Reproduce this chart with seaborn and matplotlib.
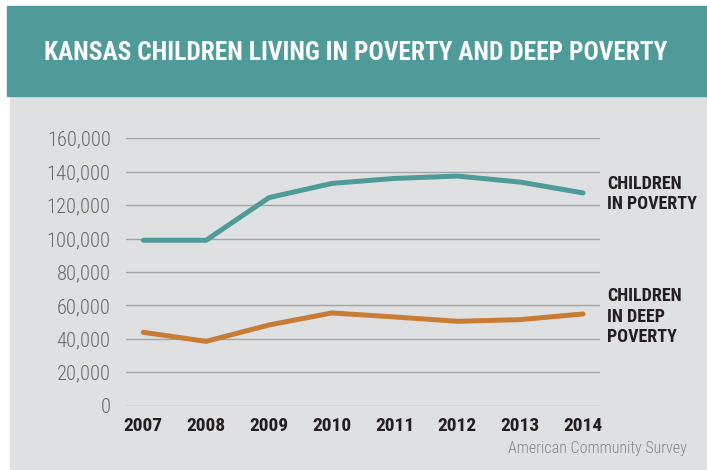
"""Kansas children living in poverty and deep poverty, 2007-2014."""

import matplotlib
matplotlib.use("Agg")

import matplotlib.pyplot as plt
import pandas as pd
import seaborn as sns
from matplotlib.patches import Rectangle
from matplotlib.ticker import FuncFormatter

years = [2007, 2008, 2009, 2010, 2011, 2012, 2013, 2014]
in_poverty = [99000, 99000, 124500, 133000, 136000, 137400, 133800, 127300]
in_deep_poverty = [43900, 38500, 48300, 55500, 53100, 50500, 51500, 54900]
y_ticks = [0, 20000, 40000, 60000, 80000, 100000, 120000, 140000, 160000]

title = "KANSAS CHILDREN LIVING IN POVERTY AND DEEP POVERTY"
label_poverty = "CHILDREN\nIN POVERTY"
label_deep = "CHILDREN\nIN DEEP\nPOVERTY"
source = "American Community Survey"

TEAL = "#4e9b9a"
ORANGE = "#c97c36"
PANEL = "#dfe0e2"
GRID = "#a3a4a6"
DARK = "#231f20"
LIGHT = "#67686a"

df = pd.DataFrame(
    {
        "year": years * 2,
        "children": in_poverty + in_deep_poverty,
        "series": ["poverty"] * len(years) + ["deep"] * len(years),
    }
)

sns.set_style("white")
# set fonts after seaborn, it resets font.family
plt.rcParams["font.family"] = ["Roboto Condensed", "DejaVu Sans"]

fig = plt.figure(figsize=(7.07, 4.70), dpi=100, facecolor="white")
W, H = 707, 470

# grey card and teal header band, drawn in figure pixels
fig.patches.append(Rectangle((10 / W, 0), 1 - 10 / W, (H - 96) / H,
                             transform=fig.transFigure, color=PANEL, zorder=-10))
fig.patches.append(Rectangle((7 / W, (H - 96) / H), 1 - 7 / W, 90 / H,
                             transform=fig.transFigure, color=TEAL, zorder=-10))
fig.text(356 / W, (H - 53) / H, title, color="white", fontsize=18.3,
         fontweight="bold", ha="center", va="center")

ax = fig.add_axes([126 / W, (H - 405.7) / H, 474 / W, 267.4 / H])
ax.set_facecolor("none")

sns.lineplot(
    data=df, x="year", y="children", hue="series",
    palette={"poverty": TEAL, "deep": ORANGE},
    linewidth=3.6, legend=False, ax=ax,
    solid_capstyle="round", zorder=3,
)

ax.set_xlim(years[0] - 0.276, years[-1] + 0.27)
ax.set_ylim(0, 160000)
ax.set_yticks(y_ticks)
ax.yaxis.set_major_formatter(FuncFormatter(lambda v, _: f"{int(v):,}"))
ax.set_xticks(years)
ax.grid(axis="y", color=GRID, linewidth=1.0)
ax.grid(axis="x", visible=False)
for s in ax.spines.values():
    s.set_visible(False)
ax.tick_params(axis="y", length=0, pad=11, labelsize=14.8, labelcolor=LIGHT)
ax.tick_params(axis="x", length=0, pad=8, labelsize=14, labelcolor=DARK)
for t in ax.get_yticklabels():
    t.set_fontweight("light")
for t in ax.get_xticklabels():
    t.set_fontweight("bold")
ax.set_xlabel("")
ax.set_ylabel("")

# direct labels to the right of the plot
fig.text(607 / W, (H - 194) / H, label_poverty, color=DARK, fontsize=13,
         fontweight="bold", ha="left", va="center", linespacing=1.1)
fig.text(607 / W, (H - 316.5) / H, label_deep, color=DARK, fontsize=13,
         fontweight="bold", ha="left", va="center", linespacing=1.15)

fig.text(687 / W, (H - 448) / H, source, color="#85868a", fontsize=11.5,
         fontweight="light", ha="right", va="center")

fig.savefig("out.png", dpi=100, facecolor=fig.get_facecolor())
